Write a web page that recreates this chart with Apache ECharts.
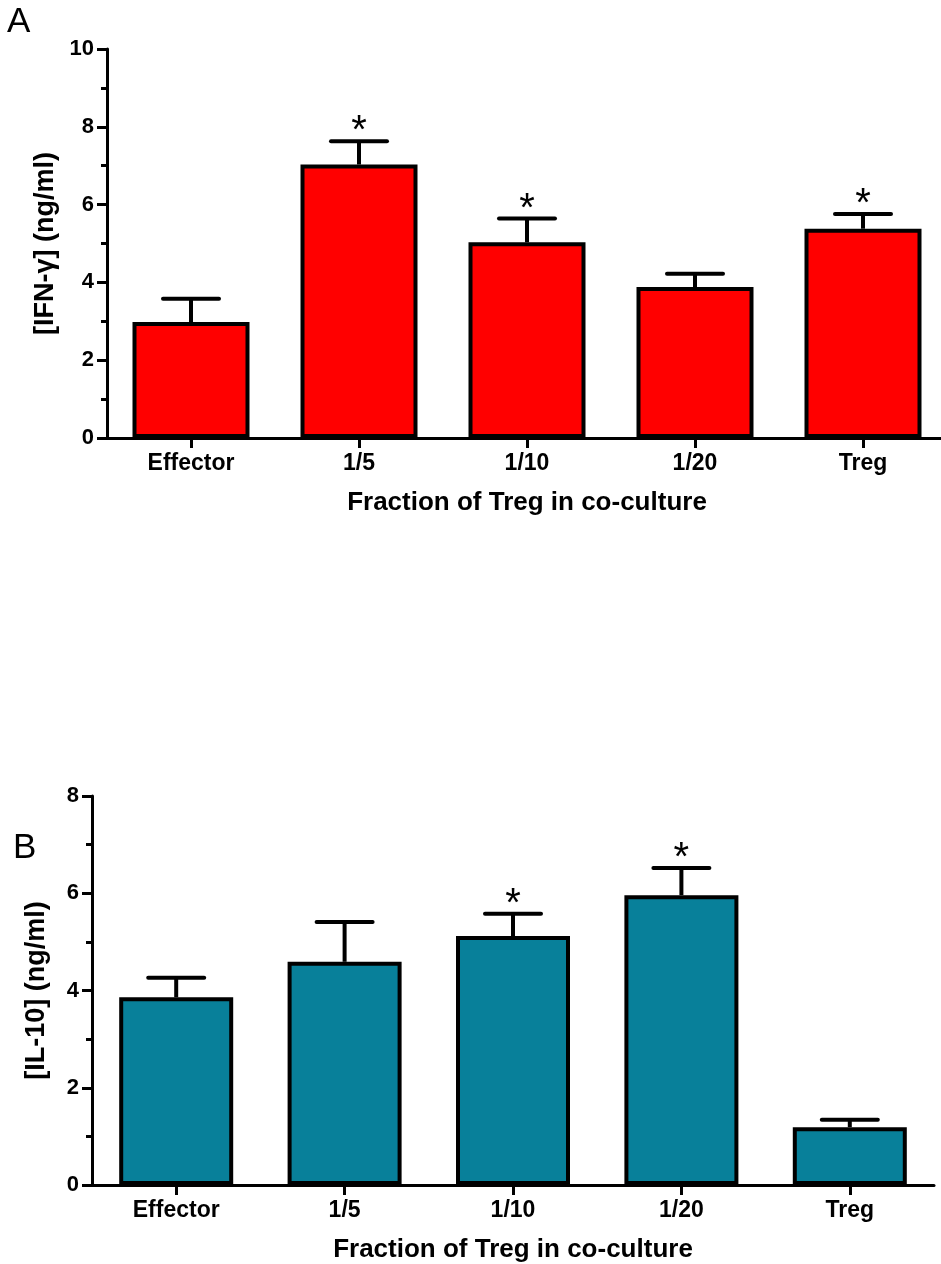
<!DOCTYPE html>
<html>
<head>
<meta charset="utf-8">
<script src="https://cdn.jsdelivr.net/npm/echarts@6/dist/echarts.min.js"></script>
<style>
html,body{margin:0;padding:0;background:#fff;overflow:hidden;width:941px;height:1264px;}
#chart{width:960px;height:1264px;}
</style>
</head>
<body>
<div id="chart"></div>
<script>
// ---- data ----
const categories = ['Effector', '1/5', '1/10', '1/20', 'Treg'];
const ifnMean = [2.98, 7.03, 5.03, 3.88, 5.38];
const ifnErrTop = [3.58, 7.63, 5.64, 4.22, 5.76];
const ifnStar = [0, 1, 1, 0, 1];
const il10Mean = [3.86, 4.59, 5.12, 5.96, 1.19];
const il10ErrTop = [4.26, 5.41, 5.58, 6.52, 1.34];
const il10Star = [0, 0, 1, 1, 0];
const ifnTicks = [0, 10, 2];   // min, max, interval
const il10Ticks = [0, 8, 2];
const yNameA = '[IFN-\u03b3] (ng/ml)';
const yNameB = '[IL-10] (ng/ml)';
const xName = 'Fraction of Treg in co-culture';

const FONT = '"Liberation Sans", Arial, sans-serif';

function errData(mean, top, star) {
  return mean.map((m, i) => [i, m, top[i], star[i]]);
}

function renderErr(params, api) {
  const i = api.value(0);
  const base = api.coord([i, api.value(1)]);
  const top = api.coord([i, api.value(2)]);
  const children = [
    {type: 'line', shape: {x1: base[0], y1: base[1], x2: top[0], y2: top[1]},
     style: {stroke: '#000', lineWidth: 4}},
    {type: 'line', shape: {x1: top[0] - 28, y1: top[1], x2: top[0] + 28, y2: top[1]},
     style: {stroke: '#000', lineWidth: 4, lineCap: 'round'}}
  ];
  if (api.value(3)) {
    children.push({type: 'text', x: top[0], y: top[1] - 9,
      style: {text: '*', font: 'normal 40px ' + FONT, fill: '#000', align: 'center', verticalAlign: 'middle'}});
  }
  return {type: 'group', children: children};
}

function yAxisCfg(gridIndex, ticks, name) {
  return {
    type: 'value', gridIndex: gridIndex, min: ticks[0], max: ticks[1], interval: ticks[2],
    name: name, nameLocation: 'middle', nameGap: 42,
    nameTextStyle: {fontFamily: FONT, fontWeight: 'bold', fontSize: 27, color: '#000'},
    axisLine: {show: true, lineStyle: {color: '#000', width: 3}},
    axisTick: {show: true, length: 10, lineStyle: {color: '#000', width: 3}},
    minorTick: {show: true, splitNumber: 2, length: 6, lineStyle: {color: '#000', width: 3}},
    splitLine: {show: false},
    axisLabel: {margin: 13, fontFamily: FONT, fontWeight: 'bold', fontSize: 22, color: '#000'}
  };
}
function xAxisCfg(gridIndex) {
  return {
    type: 'category', gridIndex: gridIndex, data: categories,
    name: xName, nameLocation: 'middle', nameGap: 52,
    nameTextStyle: {fontFamily: FONT, fontWeight: 'bold', fontSize: 26, color: '#000'},
    axisLine: {show: true, lineStyle: {color: '#000', width: 3}},
    axisTick: {show: true, alignWithLabel: true, length: 10, lineStyle: {color: '#000', width: 3}},
    axisLabel: {margin: 14, fontFamily: FONT, fontWeight: 'bold', fontSize: 23, color: '#000'}
  };
}

const chart = echarts.init(document.getElementById('chart'), null, {renderer: 'canvas'});
chart.setOption({
  backgroundColor: '#fff',
  animation: false,
  graphic: [
    {type: 'text', left: 7, top: 5, style: {text: 'A', font: 'normal 35px ' + FONT, fill: '#000'}},
    {type: 'text', left: 13, top: 831, style: {text: 'B', font: 'normal 35px ' + FONT, fill: '#000'}}
  ],
  grid: [
    {left: 107, top: 49, width: 840, height: 389},
    {left: 92, top: 796, width: 842, height: 389}
  ],
  xAxis: [xAxisCfg(0), xAxisCfg(1)],
  yAxis: [yAxisCfg(0, ifnTicks, yNameA), yAxisCfg(1, il10Ticks, yNameB)],
  series: [
    {type: 'bar', xAxisIndex: 0, yAxisIndex: 0, data: ifnMean, barWidth: 117,
     itemStyle: {color: '#FF0000', borderColor: '#000', borderWidth: 4}},
    {type: 'custom', xAxisIndex: 0, yAxisIndex: 0, data: errData(ifnMean, ifnErrTop, ifnStar),
     renderItem: renderErr, z: 5},
    {type: 'bar', xAxisIndex: 1, yAxisIndex: 1, data: il10Mean, barWidth: 114,
     itemStyle: {color: '#08809A', borderColor: '#000', borderWidth: 4}},
    {type: 'custom', xAxisIndex: 1, yAxisIndex: 1, data: errData(il10Mean, il10ErrTop, il10Star),
     renderItem: renderErr, z: 5}
  ]
});
</script>
</body>
</html>
